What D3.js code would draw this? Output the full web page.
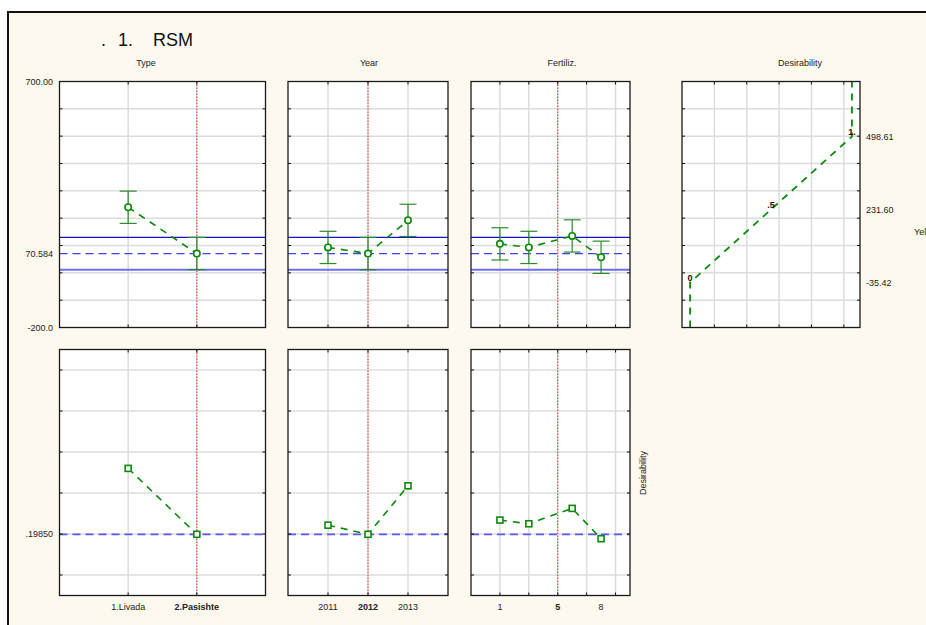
<!DOCTYPE html>
<html>
<head>
<meta charset="utf-8">
<script src="https://cdn.jsdelivr.net/npm/d3@7"></script>
<style>
  html, body { margin: 0; padding: 0; background: #fff; }
  svg { display: block; font-family: "Liberation Sans", Arial, sans-serif; }
</style>
</head>
<body>
<svg id="chart" width="926" height="625"></svg>
<script>
// ---- Factor levels ----
const typeLevels = [1, 2];
const typeLabels = ["1.Livada", "2.Pasishte"];
const yearLevels = [2011, 2012, 2013];
const yearLabels = ["2011", "2012", "2013"];
const fertLevels = [1, 3, 6, 8];
const fertTicks = [1, 5, 8];
const fertTickLabels = ["1", "5", "8"];

// ---- Current factor settings ----
const typeCurrent = 2;
const yearCurrent = 2012;
const fertCurrent = 5;

// ---- Predicted yield and confidence half-width per level ----
const typeYield = [240, 70.584];
const typeCI = [59, 59];
const yearYield = [93, 70.584, 192];
const yearCI = [59, 59, 59];
const fertYield = [106, 93, 135, 57];
const fertCI = [59, 59, 59, 59];

// ---- Overall prediction and its confidence band ----
const currentYield = 70.584;
const currentBand = [11.6, 129.6];
const currentDes = 0.1985;

// ---- Desirability per level ----
const typeDes = [0.52, 0.1985];
const yearDes = [0.243, 0.1985, 0.435];
const fertDes = [0.268, 0.25, 0.325, 0.177];

// ---- Desirability function of yield ----
const desYield = [-35.42, 231.60, 498.61];
const desValue = [0, 0.5, 1];
const desLabels = ["0", ".5", "1."];
const desYieldLabels = ["-35.42", "231.60", "498.61"];

// ---- Axis labels ----
const yieldTicks = [700, 70.584, -200];
const yieldTickLabels = ["700.00", "70.584", "-200.0"];
const desTickValues = [currentDes];
const desTickLabels = [".19850"];

const GREEN = "#0a8a0a";
const svg = d3.select("#chart");

// background and outer frame
svg.append("rect").attr("x", 0).attr("y", 0).attr("width", 926).attr("height", 625).attr("fill", "#ffffff");
svg.append("rect").attr("x", 8).attr("y", 12).attr("width", 940).attr("height", 640)
  .attr("fill", "#fef9ee").attr("stroke", "#111").attr("stroke-width", 2);

// title
const title = svg.append("g").attr("font-size", 18).attr("fill", "#111");
title.append("text").attr("x", 101).attr("y", 46).text(".");
title.append("text").attr("x", 118).attr("y", 46).text("1.");
title.append("text").attr("x", 153).attr("y", 46).text("RSM");

const TOP = 81.5, BOT = 349.5, H = 246;
const yYield = d3.scaleLinear().domain([-200, 700]).range([H, 0]);
const yDes = d3.scaleLinear().domain([-0.1, 1.1]).range([H, 0]);
const yieldGrid = d3.range(-100, 700, 100);
const desGrid = [0, 0.2, 0.4, 0.6, 0.8, 1.0];

function panel(x0, y0, w, xScale, xGrid, yScale, yGrid) {
  const g = svg.append("g").attr("transform", `translate(${x0},${y0})`);
  g.append("rect").attr("width", w).attr("height", H).attr("fill", "#fff");
  g.selectAll("line.hg").data(yGrid).join("line").attr("class", "hg")
    .attr("x1", 0).attr("x2", w).attr("y1", d => yScale(d)).attr("y2", d => yScale(d))
    .attr("stroke", "#dcdcdc").attr("stroke-width", 1.5);
  g.selectAll("line.vg").data(xGrid).join("line").attr("class", "vg")
    .attr("y1", 0).attr("y2", H).attr("x1", d => xScale(d)).attr("x2", d => xScale(d))
    .attr("stroke", "#dcdcdc").attr("stroke-width", 1.5);
  return g;
}

function frame(g, w, xScale, xGrid, yScale, yGrid) {
  // small inward tick marks on all four sides
  const t = g.append("g").attr("stroke", "#111").attr("stroke-width", 1);
  yGrid.forEach(v => {
    t.append("line").attr("x1", 0).attr("x2", 3).attr("y1", yScale(v)).attr("y2", yScale(v));
    t.append("line").attr("x1", w - 3).attr("x2", w).attr("y1", yScale(v)).attr("y2", yScale(v));
  });
  xGrid.forEach(v => {
    t.append("line").attr("y1", 0).attr("y2", 3).attr("x1", xScale(v)).attr("x2", xScale(v));
    t.append("line").attr("y1", H - 3).attr("y2", H).attr("x1", xScale(v)).attr("x2", xScale(v));
  });
  g.append("rect").attr("width", w).attr("height", H).attr("fill", "none")
    .attr("stroke", "#1a1a1a").attr("stroke-width", 1.3);
}

function currentLine(g, xScale, v) {
  g.append("line").attr("x1", xScale(v)).attr("x2", xScale(v)).attr("y1", 0).attr("y2", H)
    .attr("stroke", "#e83030").attr("stroke-width", 1).attr("stroke-dasharray", "1.5,1.5");
}

function yieldPanel(x0, w, xScale, xGrid, levels, means, ci, current, title, titleX) {
  const g = panel(x0, TOP, w, xScale, xGrid, yYield, yieldGrid);
  // confidence band of the current prediction
  g.append("line").attr("x1", 0).attr("x2", w).attr("y1", yYield(currentBand[1])).attr("y2", yYield(currentBand[1]))
    .attr("stroke", "#1414c8").attr("stroke-width", 1.2);
  g.append("line").attr("x1", 0).attr("x2", w).attr("y1", yYield(currentBand[0])).attr("y2", yYield(currentBand[0]))
    .attr("stroke", "#6e6ef2").attr("stroke-width", 2);
  g.append("line").attr("x1", 0).attr("x2", w).attr("y1", yYield(currentYield)).attr("y2", yYield(currentYield))
    .attr("stroke", "#4040ee").attr("stroke-width", 1.2).attr("stroke-dasharray", "8,5");
  currentLine(g, xScale, current);
  const pts = levels.map((l, i) => ({ x: l, y: means[i], e: ci[i] }));
  // error bars
  const eb = g.append("g").attr("stroke", "#2a8c2a").attr("stroke-width", 1.2);
  pts.forEach(p => {
    const cx = xScale(p.x);
    eb.append("line").attr("x1", cx).attr("x2", cx).attr("y1", yYield(p.y + p.e)).attr("y2", yYield(p.y - p.e));
    eb.append("line").attr("x1", cx - 8.5).attr("x2", cx + 8.5).attr("y1", yYield(p.y + p.e)).attr("y2", yYield(p.y + p.e));
    eb.append("line").attr("x1", cx - 8.5).attr("x2", cx + 8.5).attr("y1", yYield(p.y - p.e)).attr("y2", yYield(p.y - p.e));
  });
  g.append("path").datum(pts)
    .attr("d", d3.line().x(d => xScale(d.x)).y(d => yYield(d.y)))
    .attr("fill", "none").attr("stroke", GREEN).attr("stroke-width", 1.6).attr("stroke-dasharray", "7,6");
  g.selectAll("circle").data(pts).join("circle")
    .attr("cx", d => xScale(d.x)).attr("cy", d => yYield(d.y)).attr("r", 3.2)
    .attr("fill", "#fff").attr("stroke", GREEN).attr("stroke-width", 1.6);
  frame(g, w, xScale, xGrid, yYield, yieldGrid);
  svg.append("text").attr("x", titleX).attr("y", 66).attr("text-anchor", "middle")
    .attr("font-size", 9).attr("fill", "#222").text(title);
}

function desPanel(x0, w, xScale, xGrid, levels, des, current, tickVals, tickLabels, boldVal) {
  const g = panel(x0, BOT, w, xScale, xGrid, yDes, desGrid);
  g.append("line").attr("x1", 0).attr("x2", w).attr("y1", yDes(currentDes)).attr("y2", yDes(currentDes))
    .attr("stroke", "#5a5af2").attr("stroke-width", 1.8).attr("stroke-dasharray", "8,5");
  currentLine(g, xScale, current);
  const pts = levels.map((l, i) => ({ x: l, y: des[i] }));
  g.append("path").datum(pts)
    .attr("d", d3.line().x(d => xScale(d.x)).y(d => yDes(d.y)))
    .attr("fill", "none").attr("stroke", GREEN).attr("stroke-width", 1.6).attr("stroke-dasharray", "7,6");
  g.selectAll("rect.m").data(pts).join("rect").attr("class", "m")
    .attr("x", d => xScale(d.x) - 3).attr("y", d => yDes(d.y) - 3).attr("width", 6).attr("height", 6)
    .attr("fill", "#fff").attr("stroke", GREEN).attr("stroke-width", 1.6);
  frame(g, w, xScale, xGrid, yDes, desGrid);
  tickVals.forEach((v, i) => {
    svg.append("text").attr("x", x0 + xScale(v)).attr("y", 610).attr("text-anchor", "middle")
      .attr("font-size", 9).attr("fill", "#222")
      .attr("font-weight", v === boldVal ? "bold" : "normal").text(tickLabels[i]);
  });
}

// ---- Type ----
const xType = d3.scaleLinear().domain([0, 3]).range([0, 206]);
yieldPanel(59.5, 206, xType, typeLevels, typeLevels, typeYield, typeCI, typeCurrent, "Type", 146);
desPanel(59.5, 206, xType, typeLevels, typeLevels, typeDes, typeCurrent, typeLevels, typeLabels, typeCurrent);

// ---- Year ----
const xYear = d3.scaleLinear().domain([2010, 2014]).range([0, 160]);
yieldPanel(288, 160, xYear, yearLevels, yearLevels, yearYield, yearCI, yearCurrent, "Year", 369);
desPanel(288, 160, xYear, yearLevels, yearLevels, yearDes, yearCurrent, yearLevels, yearLabels, yearCurrent);

// ---- Fertiliz. ----
const xFert = d3.scaleLinear().domain([-1, 10]).range([0, 159]);
const fertGrid = [1, 3, 5, 7, 9];
yieldPanel(471, 159, xFert, fertGrid, fertLevels, fertYield, fertCI, fertCurrent, "Fertiliz.", 562);
desPanel(471, 159, xFert, fertGrid, fertLevels, fertDes, fertCurrent, fertTicks, fertTickLabels, fertCurrent);

// ---- Yield axis labels (left) ----
yieldTicks.forEach((v, i) => {
  svg.append("text").attr("x", 53).attr("y", TOP + yYield(v) + 3).attr("text-anchor", "end")
    .attr("font-size", 9).attr("fill", "#222").text(yieldTickLabels[i]);
});
desTickValues.forEach((v, i) => {
  svg.append("text").attr("x", 53).attr("y", BOT + yDes(v) + 3).attr("text-anchor", "end")
    .attr("font-size", 9).attr("fill", "#222").text(desTickLabels[i]);
});

// ---- Desirability function panel ----
const xD = d3.scaleLinear().domain([-0.05, 1.05]).range([0, 178]);
const dGrid = [0.15, 0.35, 0.55, 0.75, 0.95];
const gD = panel(682, TOP, 178, xD, dGrid, yYield, yieldGrid);
const curve = [{ d: desValue[0], y: -200 }]
  .concat(desValue.map((d, i) => ({ d: d, y: desYield[i] })))
  .concat([{ d: desValue[2], y: 700 }]);
gD.append("path").datum(curve)
  .attr("d", d3.line().x(p => xD(p.d)).y(p => yYield(p.y)))
  .attr("fill", "none").attr("stroke", GREEN).attr("stroke-width", 1.8).attr("stroke-dasharray", "7,6");
desValue.forEach((d, i) => {
  gD.append("text").attr("x", xD(d)).attr("y", yYield(desYield[i]) - 2).attr("text-anchor", "middle")
    .attr("font-size", 9).attr("font-weight", "bold").attr("fill", "#111").text(desLabels[i]);
});
frame(gD, 178, xD, dGrid, yYield, yieldGrid);
desYield.forEach((v, i) => {
  svg.append("text").attr("x", 866).attr("y", TOP + yYield(v) + 3)
    .attr("font-size", 9).attr("fill", "#222").text(desYieldLabels[i]);
});
svg.append("text").attr("x", 800).attr("y", 66).attr("text-anchor", "middle")
  .attr("font-size", 9).attr("fill", "#222").text("Desirability");
svg.append("text").attr("x", 914).attr("y", 235)
  .attr("font-size", 9).attr("fill", "#222").text("Yeld");

// ---- Desirability axis title ----
svg.append("text").attr("transform", "translate(646,473) rotate(-90)").attr("text-anchor", "middle")
  .attr("font-size", 9).attr("fill", "#222").text("Desirability");
</script>
</body>
</html>
